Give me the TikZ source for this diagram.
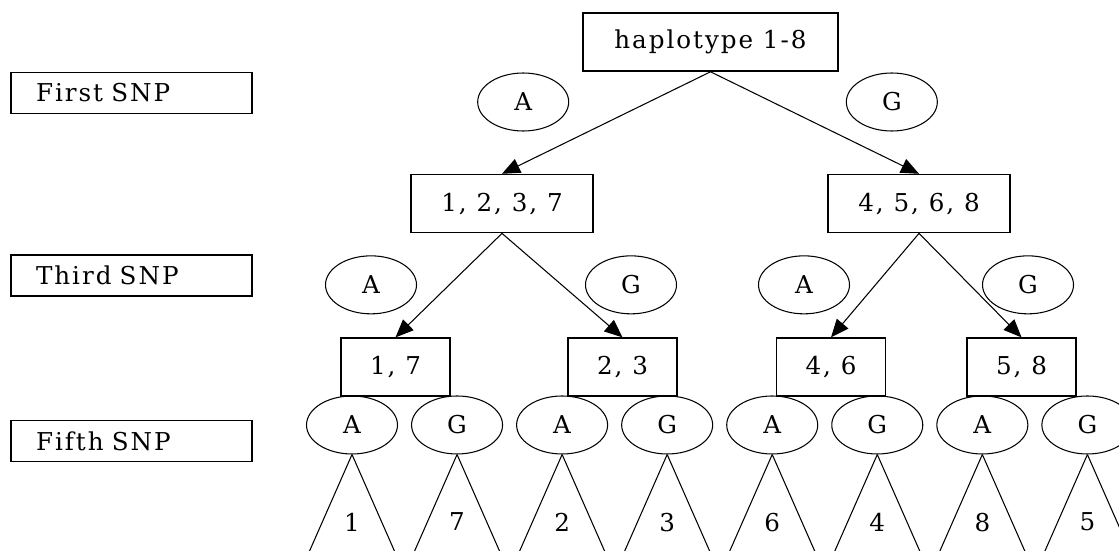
\documentclass[tikz,border=0pt]{standalone}
\usepackage{fontspec}
\setmainfont{DejaVu Serif}[LetterSpace=8]
\usetikzlibrary{shapes,arrows.meta,positioning}

\begin{document}
\begin{tikzpicture}[
    font=\fontsize{14}{17}\selectfont,
    setbox/.style={rectangle, draw, line width=0.9pt, minimum height=1.16cm, inner sep=0pt},
    snpbox/.style={rectangle, draw, line width=0.9pt, minimum height=0.82cm, text width=3.82cm, inner xsep=0.5cm, inner ysep=0pt, align=left},
    allele/.style={ellipse, draw, line width=0.6pt, minimum width=1.82cm, minimum height=1.16cm, inner sep=0pt},
    leaf/.style={inner sep=0pt},
    arrow/.style={-{Triangle[length=0.36cm,width=0.3cm]}, line width=0.6pt},
    leg/.style={line width=0.6pt}
]
\useasboundingbox (0,0) rectangle (22.38,-11);

% SNP labels on the left
\node[snpbox] (first) at (2.63,-1.86) {First SNP};
\node[snpbox, below=2.8cm of first] (third) {Third SNP};
\node[snpbox, below=2.46cm of third] (fifth) {Fifth SNP};

% Root and split on the first SNP
\node[setbox, minimum width=5.1cm] (root) at (14.21,-0.84) {haplotype 1-8};
\node[setbox, minimum width=3.64cm, below=2.04cm of root, xshift=-4.17cm] (s1237) {1, 2, 3, 7};
\node[setbox, minimum width=3.64cm, below=2.04cm of root, xshift=4.17cm] (s4568) {4, 5, 6, 8};
\node[allele, left=0.26cm of root, yshift=-1.2cm] (a1) {A};
\node[allele, right=0.14cm of root, yshift=-1.2cm] (g1) {G};

% Split on the third SNP
\node[setbox, minimum width=2.18cm, below=2.08cm of s1237, xshift=-2.13cm] (s17) {1, 7};
\node[setbox, minimum width=2.18cm, below=2.08cm of s1237, xshift=2.41cm] (s23) {2, 3};
\node[setbox, minimum width=2.18cm, below=2.08cm of s4568, xshift=-1.76cm] (s46) {4, 6};
\node[setbox, minimum width=2.18cm, below=2.08cm of s4568, xshift=2.05cm] (s58) {5, 8};
\node[allele, above=0.46cm of s17, xshift=-0.49cm] (a3l) {A};
\node[allele, above=0.46cm of s23, xshift=0.17cm] (g3l) {G};
\node[allele, above=0.46cm of s46, xshift=-0.54cm] (a3r) {A};
\node[allele, above=0.46cm of s58, xshift=0.13cm] (g3r) {G};

% Fifth SNP alleles
\node[allele, below=-0.03cm of s17, xshift=-0.87cm] (fa1) {A};
\node[allele, right=0.26cm of fa1] (fg1) {G};
\node[allele, right=0.26cm of fg1] (fa2) {A};
\node[allele, right=0.26cm of fa2] (fg2) {G};
\node[allele, right=0.26cm of fg2] (fa3) {A};
\node[allele, right=0.26cm of fa3] (fg3) {G};
\node[allele, right=0.26cm of fg3] (fa4) {A};
\node[allele, right=0.26cm of fa4] (fg4) {G};

% Single haplotypes
\node[leaf, below=1.16cm of fa1] (h1) {1};
\node[leaf, below=1.16cm of fg1] (h7) {7};
\node[leaf, below=1.16cm of fa2] (h2) {2};
\node[leaf, below=1.16cm of fg2] (h3) {3};
\node[leaf, below=1.16cm of fa3] (h6) {6};
\node[leaf, below=1.16cm of fg3] (h4) {4};
\node[leaf, below=1.16cm of fa4] (h8) {8};
\node[leaf, below=1.16cm of fg4] (h5) {5};

% Arrows
\draw[arrow] (root.south) -- (s1237.north);
\draw[arrow] (root.south) -- (s4568.north);
\draw[arrow] (s1237.south) -- (s17.north);
\draw[arrow] (s1237.south) -- (s23.north);
\draw[arrow] (s4568.south) -- (s46.north);
\draw[arrow] (s4568.south) -- (s58.north);

% Open triangles under the fifth SNP
\draw[leg] (fa1.south) -- +(-0.88,-2) (fa1.south) -- +(0.88,-2);
\draw[leg] (fg1.south) -- +(-0.88,-2) (fg1.south) -- +(0.88,-2);
\draw[leg] (fa2.south) -- +(-0.88,-2) (fa2.south) -- +(0.88,-2);
\draw[leg] (fg2.south) -- +(-0.88,-2) (fg2.south) -- +(0.88,-2);
\draw[leg] (fa3.south) -- +(-0.88,-2) (fa3.south) -- +(0.88,-2);
\draw[leg] (fg3.south) -- +(-0.88,-2) (fg3.south) -- +(0.88,-2);
\draw[leg] (fa4.south) -- +(-0.88,-2) (fa4.south) -- +(0.88,-2);
\draw[leg] (fg4.south) -- +(-0.88,-2) (fg4.south) -- +(0.88,-2);

\end{tikzpicture}
\end{document}
